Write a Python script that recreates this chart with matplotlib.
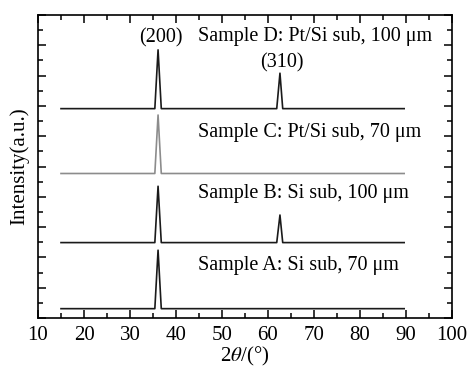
import matplotlib
matplotlib.use("Agg")
import matplotlib.pyplot as plt
from matplotlib.ticker import MultipleLocator

plt.rcParams["font.family"] = "Liberation Serif"
plt.rcParams["mathtext.fontset"] = "stix"
plt.rcParams["font.size"] = 14.5

# 2theta points and intensities (offset, a.u.)
two_theta = [15, 35.4, 36.1, 36.8, 61.9, 62.6, 63.2, 89.6]
sample_a = [0.31, 0.31, 2.24, 0.31, 0.31, 0.31, 0.31, 0.31]
sample_b = [2.49, 2.49, 4.35, 2.49, 2.49, 3.40, 2.49, 2.49]
sample_c = [4.77, 4.77, 6.70, 4.77, 4.77, 4.77, 4.77, 4.77]
sample_d = [6.91, 6.91, 8.85, 6.91, 6.91, 8.08, 6.91, 6.91]

labels = ["Sample A: Si sub, 70 \u03bcm", "Sample B: Si sub, 100 \u03bcm",
          "Sample C: Pt/Si sub, 70 \u03bcm", "Sample D: Pt/Si sub, 100 \u03bcm"]
label_y = [1.74, 4.11, 6.13, 9.29]
peaks = ["(200)", "(310)"]
peak_pos = [(36.7, 9.24), (63.0, 8.43)]

fig = plt.figure(figsize=(4.68, 3.72), dpi=100)
ax = fig.add_axes([0.0812, 0.145, 0.8846, 0.8147])

for ys, col in zip([sample_a, sample_b, sample_c, sample_d],
                   ["#1a1a1a", "#1a1a1a", "#8c8c8c", "#1a1a1a"]):
    ax.plot(two_theta, ys, color=col, lw=1.2)

for txt, y in zip(labels, label_y):
    ax.text(44.7, y, txt, va="center", ha="left")
for txt, (x, y) in zip(peaks, peak_pos):
    ax.text(x, y, txt, va="center", ha="center")

ax.set_xlim(10, 100)
ax.set_ylim(0, 10)
ax.xaxis.set_major_locator(MultipleLocator(10))
ax.xaxis.set_minor_locator(MultipleLocator(5))
ax.yaxis.set_major_locator(MultipleLocator(1))
ax.yaxis.set_minor_locator(MultipleLocator(0.5))
ax.tick_params(which="both", direction="in", top=True, right=True, width=1.1)
ax.tick_params(which="major", length=6)
ax.tick_params(which="minor", length=3.5)
ax.tick_params(axis="x", pad=6, labelsize=15)
ax.tick_params(axis="y", labelleft=False)
for s in ax.spines.values():
    s.set_linewidth(1.2)

ax.set_xlabel("2$\\theta$/(\u00b0)", labelpad=0, fontsize=15)
ax.set_ylabel("Intensity(a.u.)", labelpad=3, fontsize=15)

fig.savefig("out.png", dpi=100)
